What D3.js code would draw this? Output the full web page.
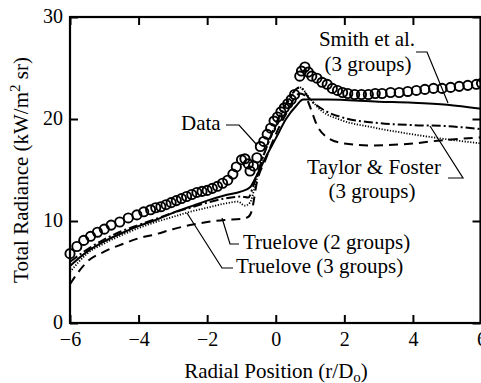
<!DOCTYPE html>
<html>
<head>
<meta charset="utf-8">
<script src="https://cdn.jsdelivr.net/npm/d3@7"></script>
<style>
  body { margin: 0; background: #fff; }
  svg { display: block; }
</style>
</head>
<body>
<svg id="chart" width="481" height="383"></svg>
<script>
// measured data (open circles)
var dataX = [-6, -5.8, -5.6, -5.4, -5.2, -5.0, -4.8, -4.55, -4.3, -4.05, -3.85, -3.65, -3.5, -3.35, -3.2, -3.05, -2.9, -2.75, -2.6, -2.45, -2.3, -2.15, -2.0, -1.85, -1.7, -1.55, -1.4, -1.25, -1.15, -1.0, -0.9, -0.8, -0.75, -0.65, -0.55, -0.45, -0.35, -0.25, -0.15, -0.05, 0.05, 0.15, 0.25, 0.35, 0.45, 0.55, 0.7, 0.75, 0.85, 0.95, 1.05, 1.2, 1.35, 1.5, 1.65, 1.8, 1.95, 2.1, 2.3, 2.5, 2.7, 2.9, 3.1, 3.35, 3.6, 3.85, 4.1, 4.35, 4.6, 4.85, 5.1, 5.35, 5.6, 5.85, 6.0];
var dataY = [6.8, 7.5, 8.1, 8.5, 8.9, 9.2, 9.6, 9.9, 10.3, 10.6, 10.9, 11.1, 11.3, 11.4, 11.6, 11.8, 12.0, 12.2, 12.4, 12.6, 12.8, 12.9, 13.0, 13.2, 13.4, 13.7, 14.0, 14.6, 15.3, 16.0, 16.1, 15.6, 14.9, 15.4, 16.2, 17.3, 17.8, 18.5, 19.1, 19.8, 20.2, 20.7, 21.1, 21.5, 21.9, 22.4, 24.2, 24.7, 25.1, 24.6, 24.2, 24.0, 23.6, 23.4, 23.0, 22.8, 22.6, 22.5, 22.4, 22.4, 22.4, 22.5, 22.5, 22.6, 22.6, 22.7, 22.8, 22.9, 23.0, 23.0, 23.1, 23.2, 23.3, 23.4, 23.5];

// Smith et al. (3 groups) - solid
var smithX = [-6, -5.5, -5, -4.5, -4, -3.5, -3, -2.5, -2, -1.5, -1, -0.75, -0.55, -0.3, 0, 0.3, 0.6, 0.8, 1.5, 3, 4, 5, 6];
var smithY = [5.6, 7.0, 8.0, 8.8, 9.5, 10.1, 10.8, 11.4, 12.0, 12.5, 12.9, 13.3, 14.5, 16.2, 18.1, 20.0, 21.3, 21.9, 21.9, 21.7, 21.6, 21.4, 21.0];

// Taylor & Foster (3 groups) - dash-dot
var taylorX = [-6, -5.5, -5, -4.5, -4, -3.5, -3, -2.5, -2, -1.5, -1, -0.8, -0.65, -0.4, 0, 0.3, 0.7, 1.0, 1.5, 2, 3, 4, 5, 6];
var taylorY = [6.0, 7.2, 8.2, 9.0, 9.6, 10.2, 10.8, 11.3, 11.8, 12.2, 12.4, 12.3, 13.5, 16.0, 19.5, 21.5, 23.1, 21.9, 20.7, 20.1, 19.6, 19.4, 19.3, 19.0];

// Truelove (3 groups) - dotted
var true3X = [-6, -5.5, -5, -4.5, -4, -3.5, -3, -2.5, -2, -1.5, -1.1, -0.9, -0.75, -0.6, -0.4, 0, 0.3, 0.7, 1.0, 1.3, 1.9, 2.8, 3.8, 4.8, 6];
var true3Y = [5.0, 6.8, 7.8, 8.6, 9.3, 9.9, 10.4, 10.9, 11.3, 11.7, 11.9, 11.5, 11.8, 13.5, 16.0, 19.3, 21.3, 23.1, 22.0, 20.9, 19.9, 19.2, 18.6, 18.1, 17.6];

// Truelove (2 groups) - dashed
var true2X = [-6, -5.8, -5.5, -5, -4.5, -4, -3.5, -3, -2.5, -2, -1.5, -1, -0.8, -0.7, -0.55, -0.3, 0, 0.3, 0.7, 0.85, 1.0, 1.2, 1.5, 2, 2.8, 4, 4.8, 6];
var true2Y = [3.8, 4.8, 6.0, 7.0, 7.7, 8.3, 8.7, 9.2, 9.6, 9.9, 10.1, 10.2, 10.4, 11.0, 13.8, 16.0, 18.5, 20.5, 22.5, 22.3, 21.2, 19.4, 18.2, 17.6, 17.4, 17.6, 17.9, 18.2];

var xTicks = [-6, -4, -2, 0, 2, 4, 6];
var yTicks = [0, 10, 20, 30];

var serif = "'Liberation Serif', 'DejaVu Serif', 'Times New Roman', Times, serif";

var svg = d3.select('#chart');
var x = d3.scaleLinear().domain([-6, 6]).range([70, 481.5]);
var y = d3.scaleLinear().domain([0, 30]).range([323, 17]);

function pts(xs, ys) { return xs.map(function(d, i) { return [d, ys[i]]; }); }

var line = d3.line()
  .x(function(d) { return x(d[0]); })
  .y(function(d) { return y(d[1]); })
  .curve(d3.curveMonotoneX);

// axes (ticks point inward)
var fmt = function(d) { return d3.format('')(d).replace('-', '\u2212'); };
svg.append('g').attr('transform', 'translate(0,323)')
  .call(d3.axisBottom(x).tickValues(xTicks).tickFormat(fmt).tickSizeInner(-8).tickSizeOuter(0).tickPadding(9));
svg.append('g').attr('transform', 'translate(0,17)')
  .call(d3.axisTop(x).tickValues(xTicks).tickFormat('').tickSizeInner(-8).tickSizeOuter(0));
svg.append('g').attr('transform', 'translate(70,0)')
  .call(d3.axisLeft(y).tickValues(yTicks).tickSizeInner(-8).tickSizeOuter(0).tickPadding(7));
svg.append('g').attr('transform', 'translate(480.5,0)')
  .call(d3.axisRight(y).tickValues(yTicks).tickFormat('').tickSizeInner(-8).tickSizeOuter(0));
svg.selectAll('.domain').remove();
svg.selectAll('.tick line').attr('stroke', '#000').attr('stroke-width', 2);
svg.selectAll('.tick text').attr('fill', '#000').style('font-family', serif).style('font-size', '20px');
svg.selectAll('.tick text').filter(function() { return this.getAttribute('dy') === '0.32em'; })
  .attr('dy', '0.28em');

// frame
svg.append('rect').attr('x', 70).attr('y', 17).attr('width', 410.5).attr('height', 306)
  .attr('fill', 'none').attr('stroke', '#000').attr('stroke-width', 2.2);

// model curves
var series = [
  { xs: smithX, ys: smithY, dash: null, w: 2 },
  { xs: taylorX, ys: taylorY, dash: '9,3,2,3', w: 2 },
  { xs: true3X, ys: true3Y, dash: '1.2,1.6', w: 1.8 },
  { xs: true2X, ys: true2Y, dash: '9,6', w: 2 }
];
svg.selectAll('path.model')
  .data(series)
  .enter().append('path')
    .attr('class', 'model')
    .attr('d', function(d) { return line(pts(d.xs, d.ys)); })
    .attr('fill', 'none')
    .attr('stroke', '#000')
    .attr('stroke-width', function(d) { return d.w; })
    .attr('stroke-dasharray', function(d) { return d.dash; });

// data circles
svg.selectAll('circle.data')
  .data(pts(dataX, dataY))
  .enter().append('circle')
    .attr('class', 'data')
    .attr('cx', function(d) { return x(d[0]); })
    .attr('cy', function(d) { return y(d[1]); })
    .attr('r', 4.6)
    .attr('fill', 'none')
    .attr('stroke', '#000')
    .attr('stroke-width', 1.9);

// labels + leader lines
var leaders = [
  [[226, 125], [239, 125], [257, 145]],
  [[416, 52], [427, 52], [448, 103]],
  [[448, 178], [463, 178], [430, 126]],
  [[222, 218], [230, 244], [239, 244]],
  [[187, 213], [222, 268], [233, 268]]
];
svg.selectAll('path.leader')
  .data(leaders)
  .enter().append('path')
    .attr('class', 'leader')
    .attr('d', d3.line())
    .attr('fill', 'none')
    .attr('stroke', '#000')
    .attr('stroke-width', 1.2);

var labels = [
  { t: 'Data', x: 181, y: 130, a: 'start' },
  { t: 'Smith et al.', x: 367, y: 46, a: 'middle' },
  { t: '(3 groups)', x: 368, y: 71, a: 'middle' },
  { t: 'Taylor & Foster', x: 374, y: 174, a: 'middle' },
  { t: '(3 groups)', x: 372, y: 198, a: 'middle' },
  { t: 'Truelove (2 groups)', x: 243, y: 249, a: 'start' },
  { t: 'Truelove (3 groups)', x: 236, y: 273, a: 'start' }
];
svg.selectAll('text.lbl')
  .data(labels)
  .enter().append('text')
    .attr('class', 'lbl')
    .attr('x', function(d) { return d.x; })
    .attr('y', function(d) { return d.y; })
    .attr('text-anchor', function(d) { return d.a; })
    .style('font-family', serif)
    .style('font-size', '21px')
    .text(function(d) { return d.t; });

// axis titles
var xt = svg.append('text').attr('x', 276).attr('y', 378).attr('text-anchor', 'middle')
  .style('font-family', serif).style('font-size', '21px');
xt.append('tspan').text('Radial Position (r/D');
xt.append('tspan').attr('dy', 4).style('font-size', '15px').text('o');
xt.append('tspan').attr('dy', -4).text(')');

var yt = svg.append('text').attr('transform', 'translate(28,170) rotate(-90)').attr('text-anchor', 'middle')
  .style('font-family', serif).style('font-size', '21px');
yt.append('tspan').text('Total Radiance (kW/m');
yt.append('tspan').attr('dy', -8).style('font-size', '15px').text('2');
yt.append('tspan').attr('dy', 8).text(' sr)');
</script>
</body>
</html>
